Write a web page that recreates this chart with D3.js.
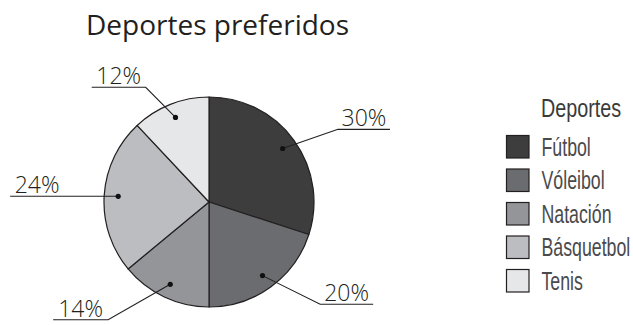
<!DOCTYPE html>
<html>
<head>
<meta charset="utf-8">
<script src="https://cdn.jsdelivr.net/npm/d3@7/dist/d3.min.js"></script>
<style>
  html, body { margin: 0; padding: 0; background: #ffffff; }
  svg { display: block; }
</style>
</head>
<body>
<svg id="chart" width="633" height="325"></svg>
<script>
// Sports preference shares (percent)
const categories = ["Fútbol", "Vóleibol", "Natación", "Básquetbol", "Tenis"];
const values = [30, 20, 14, 24, 12];
const colors = ["#3d3d3e", "#6b6c6f", "#939598", "#bcbdc0", "#e6e7e8"];
const chartTitle = "Deportes preferidos";
const legendTitle = "Deportes";

// Leader-line layout per slice: elbow (angle in degrees clockwise from top, radius),
// then a horizontal underline of the given length (+ right, - left).
const leaderElbowAngle = [60.6, 132.6, 220.6, 272.4, 331.1];
const leaderElbowRadius = [148, 151, 155, 145, 131];
const underlineLength = [52, 53, -55, -54, -54];

const ink = "#231f20";
const svg = d3.select("#chart");

const cx = 209, cy = 202, radius = 105;

svg.append("text")
  .attr("x", 86).attr("y", 35)
  .attr("font-family", "'Open Sans', sans-serif")
  .attr("font-size", 28)
  .attr("fill", ink)
  .text(chartTitle);

const pie = d3.pie().sort(null).value(d => d)(values);
const arc = d3.arc().innerRadius(0).outerRadius(radius);
const dotArc = d3.arc().innerRadius(91).outerRadius(91);

const g = svg.append("g").attr("transform", `translate(${cx},${cy})`);

g.selectAll("path.slice")
  .data(pie)
  .join("path")
  .attr("class", "slice")
  .attr("d", arc)
  .attr("fill", (d, i) => colors[i])
  .attr("stroke", ink)
  .attr("stroke-width", 1.2)
  .attr("stroke-linejoin", "round");

const polar = (deg, r) => {
  const a = deg * Math.PI / 180;
  return [Math.sin(a) * r, -Math.cos(a) * r];
};

const labels = g.selectAll("g.label")
  .data(pie)
  .join("g")
  .attr("class", "label");

labels.each(function (d, i) {
  const sel = d3.select(this);
  const dot = dotArc.centroid(d);
  const elbow = polar(leaderElbowAngle[i], leaderElbowRadius[i]);
  elbow[1] = i === 3 ? dot[1] : elbow[1];
  const end = [elbow[0] + underlineLength[i], elbow[1]];
  sel.append("path")
    .attr("d", d3.line()([dot, elbow, end]))
    .attr("fill", "none")
    .attr("stroke", ink)
    .attr("stroke-width", 1.1);
  sel.append("circle")
    .attr("cx", dot[0]).attr("cy", dot[1])
    .attr("r", 2.6)
    .attr("fill", "#111");
  sel.append("text")
    .attr("x", (elbow[0] + end[0]) / 2)
    .attr("y", elbow[1] - 3)
    .attr("text-anchor", "middle")
    .attr("font-family", "'Open Sans', sans-serif")
    .attr("font-weight", 300)
    .attr("font-size", 23)
    .attr("fill", ink)
    .text(d.data + "%");
});

// Legend (condensed lettering via horizontal scaling)
const legend = svg.append("g");
const rowY = d3.scalePoint().domain(categories).range([135, 269]);
const legendFont = "'Liberation Sans', Arial, sans-serif";

legend.append("text")
  .attr("transform", "translate(541,117) scale(0.79,1)")
  .attr("font-family", legendFont)
  .attr("font-size", 25)
  .attr("fill", "#3a3a3b")
  .text(legendTitle);

const rows = legend.selectAll("g.row")
  .data(categories)
  .join("g")
  .attr("class", "row")
  .attr("transform", d => `translate(506,${rowY(d)})`);

rows.append("rect")
  .attr("x", 0.5).attr("y", 0.5)
  .attr("width", 22.5).attr("height", 22.5)
  .attr("fill", (d, i) => colors[i])
  .attr("stroke", ink)
  .attr("stroke-width", 1.2);

rows.append("text")
  .attr("transform", "translate(35.5,20.8) scale(0.71,1)")
  .attr("font-family", legendFont)
  .attr("font-size", 25)
  .attr("fill", "#4a4a4c")
  .text(d => d);
</script>
</body>
</html>
